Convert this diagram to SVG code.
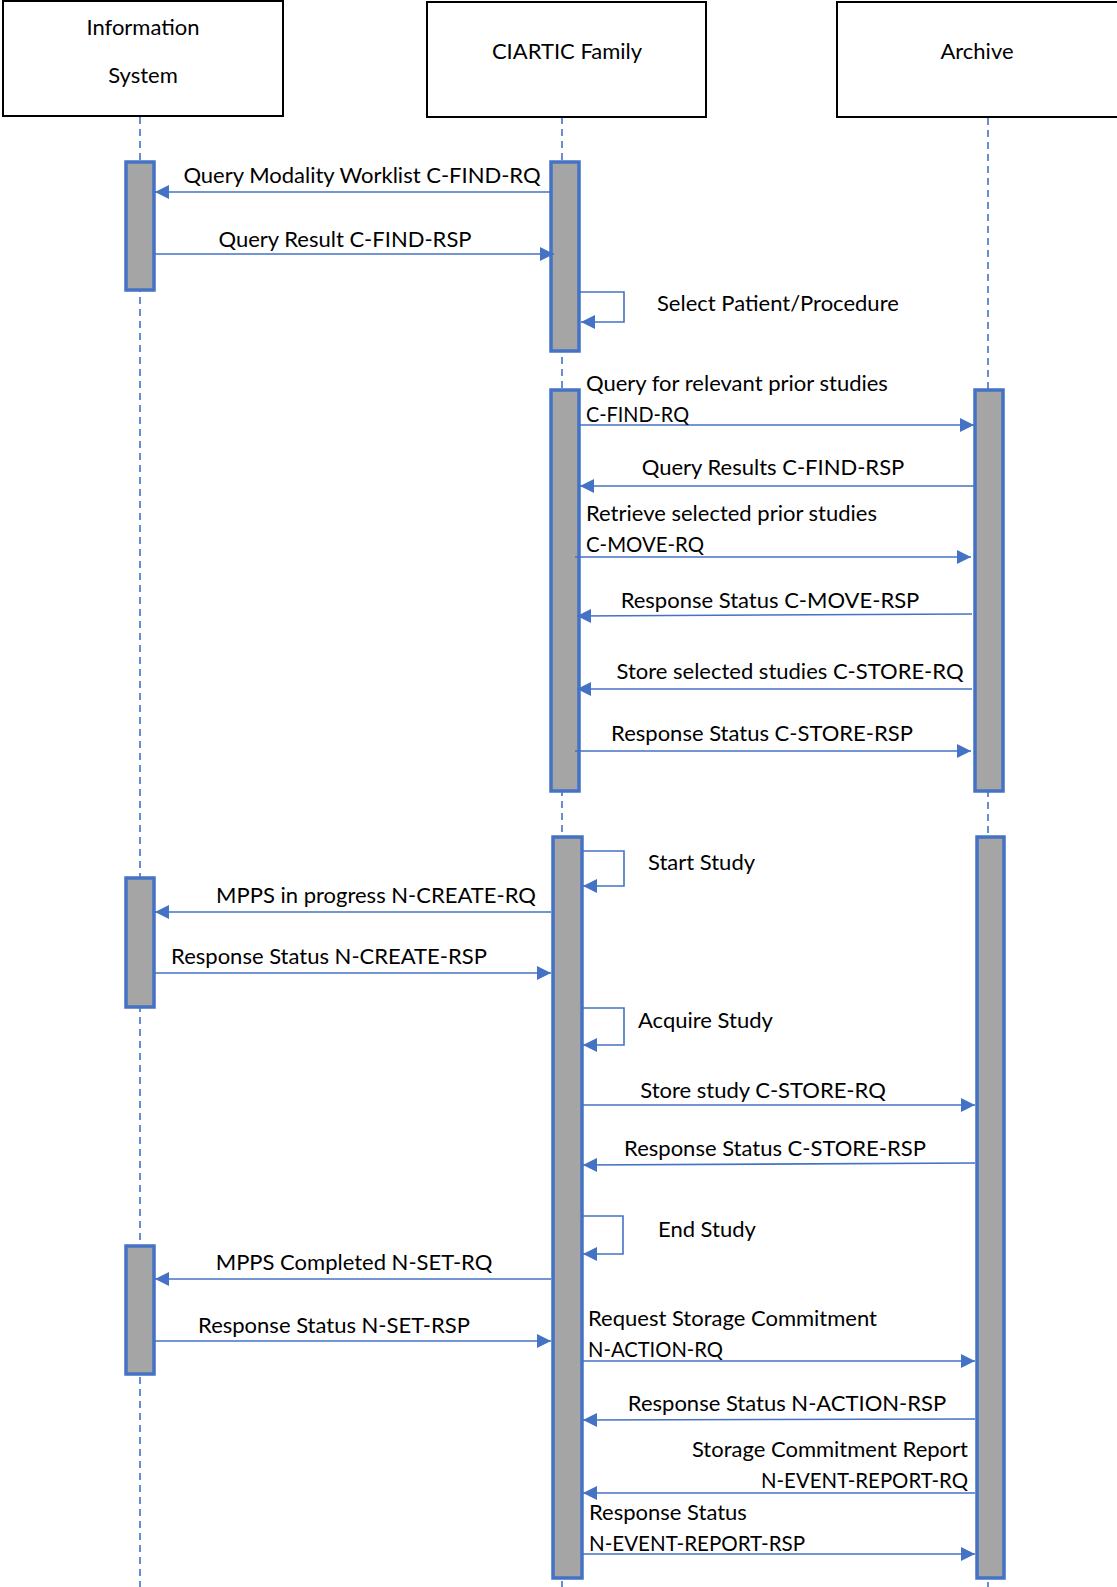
<svg xmlns="http://www.w3.org/2000/svg" width="1117" height="1587" viewBox="0 0 1117 1587">
<style>
.box{fill:#fff;stroke:#000;stroke-width:2}
.life{stroke:#4472C4;stroke-width:1.6;stroke-dasharray:7,5;fill:none}
.bar{fill:#A5A5A5;stroke:#4472C4;stroke-width:3.5}
.msg{stroke:#4472C4;stroke-width:1.6;fill:none;marker-end:url(#ah)}
text{font-family:Lato,"Open Sans","Liberation Sans",sans-serif;font-size:22px;fill:#000}
.c{text-anchor:middle}
.r{text-anchor:end}
</style>
<defs>
<marker id="ah" viewBox="0 0 14 14" refX="14" refY="7" markerWidth="14" markerHeight="14" markerUnits="userSpaceOnUse" orient="auto">
<path d="M0,0 L14,7 L0,14 z" fill="#4472C4"/>
</marker>
</defs>
<rect width="1117" height="1587" fill="#fff"/>
<g id="lifelines">
<line class="life" x1="140" y1="117" x2="140" y2="1587"/>
<line class="life" x1="562" y1="117" x2="562" y2="1587"/>
<line class="life" x1="988" y1="118" x2="988" y2="1587"/>
</g>
<g id="node-info">
<rect class="box" x="3" y="1" width="280" height="115"/>
<text class="c" x="143" y="35">Information</text>
<text class="c" x="143" y="83">System</text>
</g>
<g id="node-ciartic">
<rect class="box" x="427" y="2" width="279" height="115"/>
<text class="c" x="567" y="59">CIARTIC Family</text>
</g>
<g id="node-archive">
<rect class="box" x="837" y="2" width="282" height="115"/>
<text class="c" x="977" y="59">Archive</text>
</g>
<g id="activations">
<rect class="bar" x="126" y="162" width="28" height="128"/>
<rect class="bar" x="551" y="162" width="28" height="189"/>
<rect class="bar" x="551" y="390" width="28" height="401"/>
<rect class="bar" x="975" y="390" width="28" height="401"/>
<rect class="bar" x="553" y="837" width="29" height="741"/>
<rect class="bar" x="977" y="837" width="27" height="741"/>
<rect class="bar" x="126" y="878" width="28" height="129"/>
<rect class="bar" x="126" y="1246" width="28" height="128"/>
</g>
<g id="connectors">
<line class="msg" x1="550" y1="192" x2="155" y2="192"/>
<line class="msg" x1="154" y1="254" x2="554" y2="254"/>
<polyline class="msg" points="579,292 624,292 624,322 581,322"/>
<line class="msg" x1="579" y1="425" x2="974" y2="425"/>
<line class="msg" x1="974" y1="486" x2="580" y2="486"/>
<line class="msg" x1="575" y1="557" x2="971" y2="557"/>
<line class="msg" x1="972" y1="614" x2="577" y2="616"/>
<line class="msg" x1="972" y1="689" x2="577" y2="689"/>
<line class="msg" x1="575" y1="751" x2="971" y2="751"/>
<polyline class="msg" points="582,851 624,851 624,886 583,886"/>
<line class="msg" x1="551" y1="912" x2="155" y2="912"/>
<line class="msg" x1="154" y1="973" x2="551" y2="973"/>
<polyline class="msg" points="582,1008 624,1008 624,1045 583,1045"/>
<line class="msg" x1="582" y1="1105" x2="975" y2="1105"/>
<line class="msg" x1="975" y1="1163" x2="583" y2="1165"/>
<polyline class="msg" points="582,1216 623,1216 623,1254 583,1254"/>
<line class="msg" x1="551" y1="1279" x2="155" y2="1279"/>
<line class="msg" x1="154" y1="1341" x2="551" y2="1341"/>
<line class="msg" x1="582" y1="1361" x2="975" y2="1361"/>
<line class="msg" x1="975" y1="1419" x2="583" y2="1420"/>
<line class="msg" x1="975" y1="1493" x2="583" y2="1493"/>
<line class="msg" x1="582" y1="1554" x2="975" y2="1554"/>
</g>
<g id="labels">
<text class="c" x="362" y="183">Query Modality Worklist C-FIND-RQ</text>
<text class="c" x="345" y="247">Query Result C-FIND-RSP</text>
<text x="657" y="311">Select Patient/Procedure</text>
<text x="586" y="391">Query for relevant prior studies</text>
<text x="586" y="422" textLength="103" lengthAdjust="spacingAndGlyphs">C-FIND-RQ</text>
<text class="c" x="773" y="475">Query Results C-FIND-RSP</text>
<text x="586" y="521">Retrieve selected prior studies</text>
<text x="586" y="552" textLength="118" lengthAdjust="spacingAndGlyphs">C-MOVE-RQ</text>
<text class="c" x="770" y="608">Response Status C-MOVE-RSP</text>
<text class="c" x="790" y="679">Store selected studies C-STORE-RQ</text>
<text class="c" x="762" y="741">Response Status C-STORE-RSP</text>
<text x="648" y="870">Start Study</text>
<text class="c" x="376" y="903">MPPS in progress N-CREATE-RQ</text>
<text class="c" x="329" y="964">Response Status N-CREATE-RSP</text>
<text x="638" y="1028">Acquire Study</text>
<text class="c" x="763" y="1098">Store study C-STORE-RQ</text>
<text class="c" x="775" y="1156">Response Status C-STORE-RSP</text>
<text x="658" y="1237">End Study</text>
<text class="c" x="354" y="1270">MPPS Completed N-SET-RQ</text>
<text class="c" x="334" y="1333">Response Status N-SET-RSP</text>
<text x="588" y="1326">Request Storage Commitment</text>
<text x="588" y="1357" textLength="135" lengthAdjust="spacingAndGlyphs">N-ACTION-RQ</text>
<text class="c" x="787" y="1411">Response Status N-ACTION-RSP</text>
<text class="r" x="968" y="1457">Storage Commitment Report</text>
<text class="r" x="968" y="1488" textLength="207" lengthAdjust="spacingAndGlyphs">N-EVENT-REPORT-RQ</text>
<text x="589" y="1520">Response Status</text>
<text x="589" y="1551" textLength="216" lengthAdjust="spacingAndGlyphs">N-EVENT-REPORT-RSP</text>
</g>
</svg>
